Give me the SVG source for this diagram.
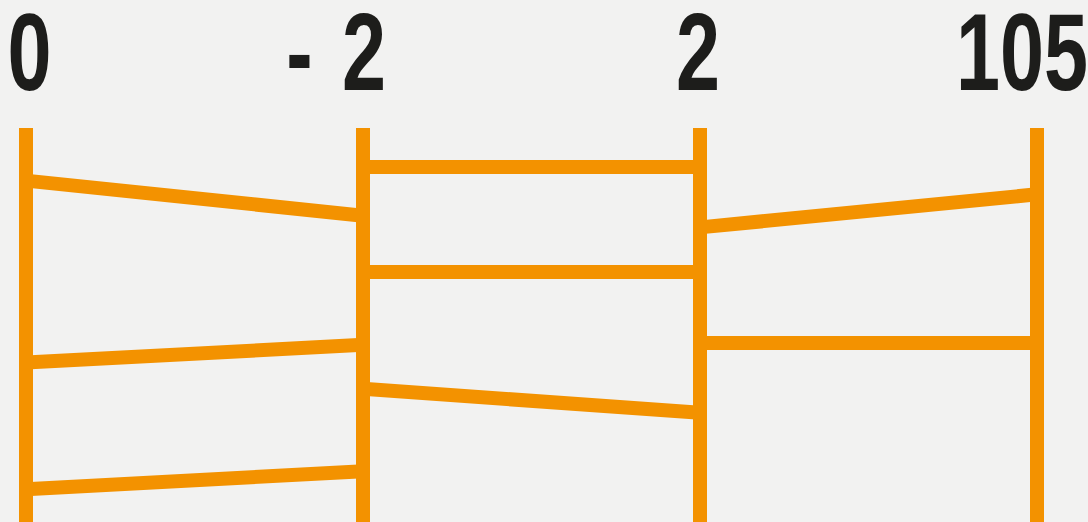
<svg xmlns="http://www.w3.org/2000/svg" width="1088" height="522" viewBox="0 0 1088 522">
<style>
.rail{stroke:#F39200;stroke-width:14;fill:none}
.rung{stroke:#F39200;stroke-width:14;fill:none}
.lbl{font-family:"Liberation Sans",Arial,sans-serif;font-weight:bold;font-size:110px;fill:#1D1D1B;text-anchor:middle}
</style>
<rect width="1088" height="522" fill="#F2F2F1"/>
<g id="connectors">
<line class="rung" x1="26" y1="180.6" x2="363" y2="215.7"/>
<line class="rung" x1="363" y1="167" x2="700" y2="167"/>
<line class="rung" x1="700" y1="227.4" x2="1037" y2="194.3"/>
<line class="rung" x1="363" y1="272" x2="700" y2="272"/>
<line class="rung" x1="700" y1="343" x2="1037" y2="343"/>
<line class="rung" x1="26" y1="362.4" x2="363" y2="344.8"/>
<line class="rung" x1="363" y1="388.8" x2="700" y2="412.8"/>
<line class="rung" x1="26" y1="489.2" x2="363" y2="471.3"/>
</g>
<g id="node-0">
<line class="rail" x1="26" y1="128" x2="26" y2="522"/>
<text class="lbl" transform="scale(0.72,1)" x="40.97" y="90">0</text>
</g>
<g id="node-minus2">
<line class="rail" x1="363" y1="128" x2="363" y2="522"/>
<text class="lbl" transform="scale(0.72,1)" x="416 505.6" y="90">-2</text>
</g>
<g id="node-2">
<line class="rail" x1="700" y1="128" x2="700" y2="522"/>
<text class="lbl" transform="scale(0.72,1)" x="969.4" y="90">2</text>
</g>
<g id="node-105">
<line class="rail" x1="1037" y1="128" x2="1037" y2="522"/>
<text class="lbl" transform="scale(0.72,1)" x="1419.4" y="90">105</text>
</g>
</svg>
